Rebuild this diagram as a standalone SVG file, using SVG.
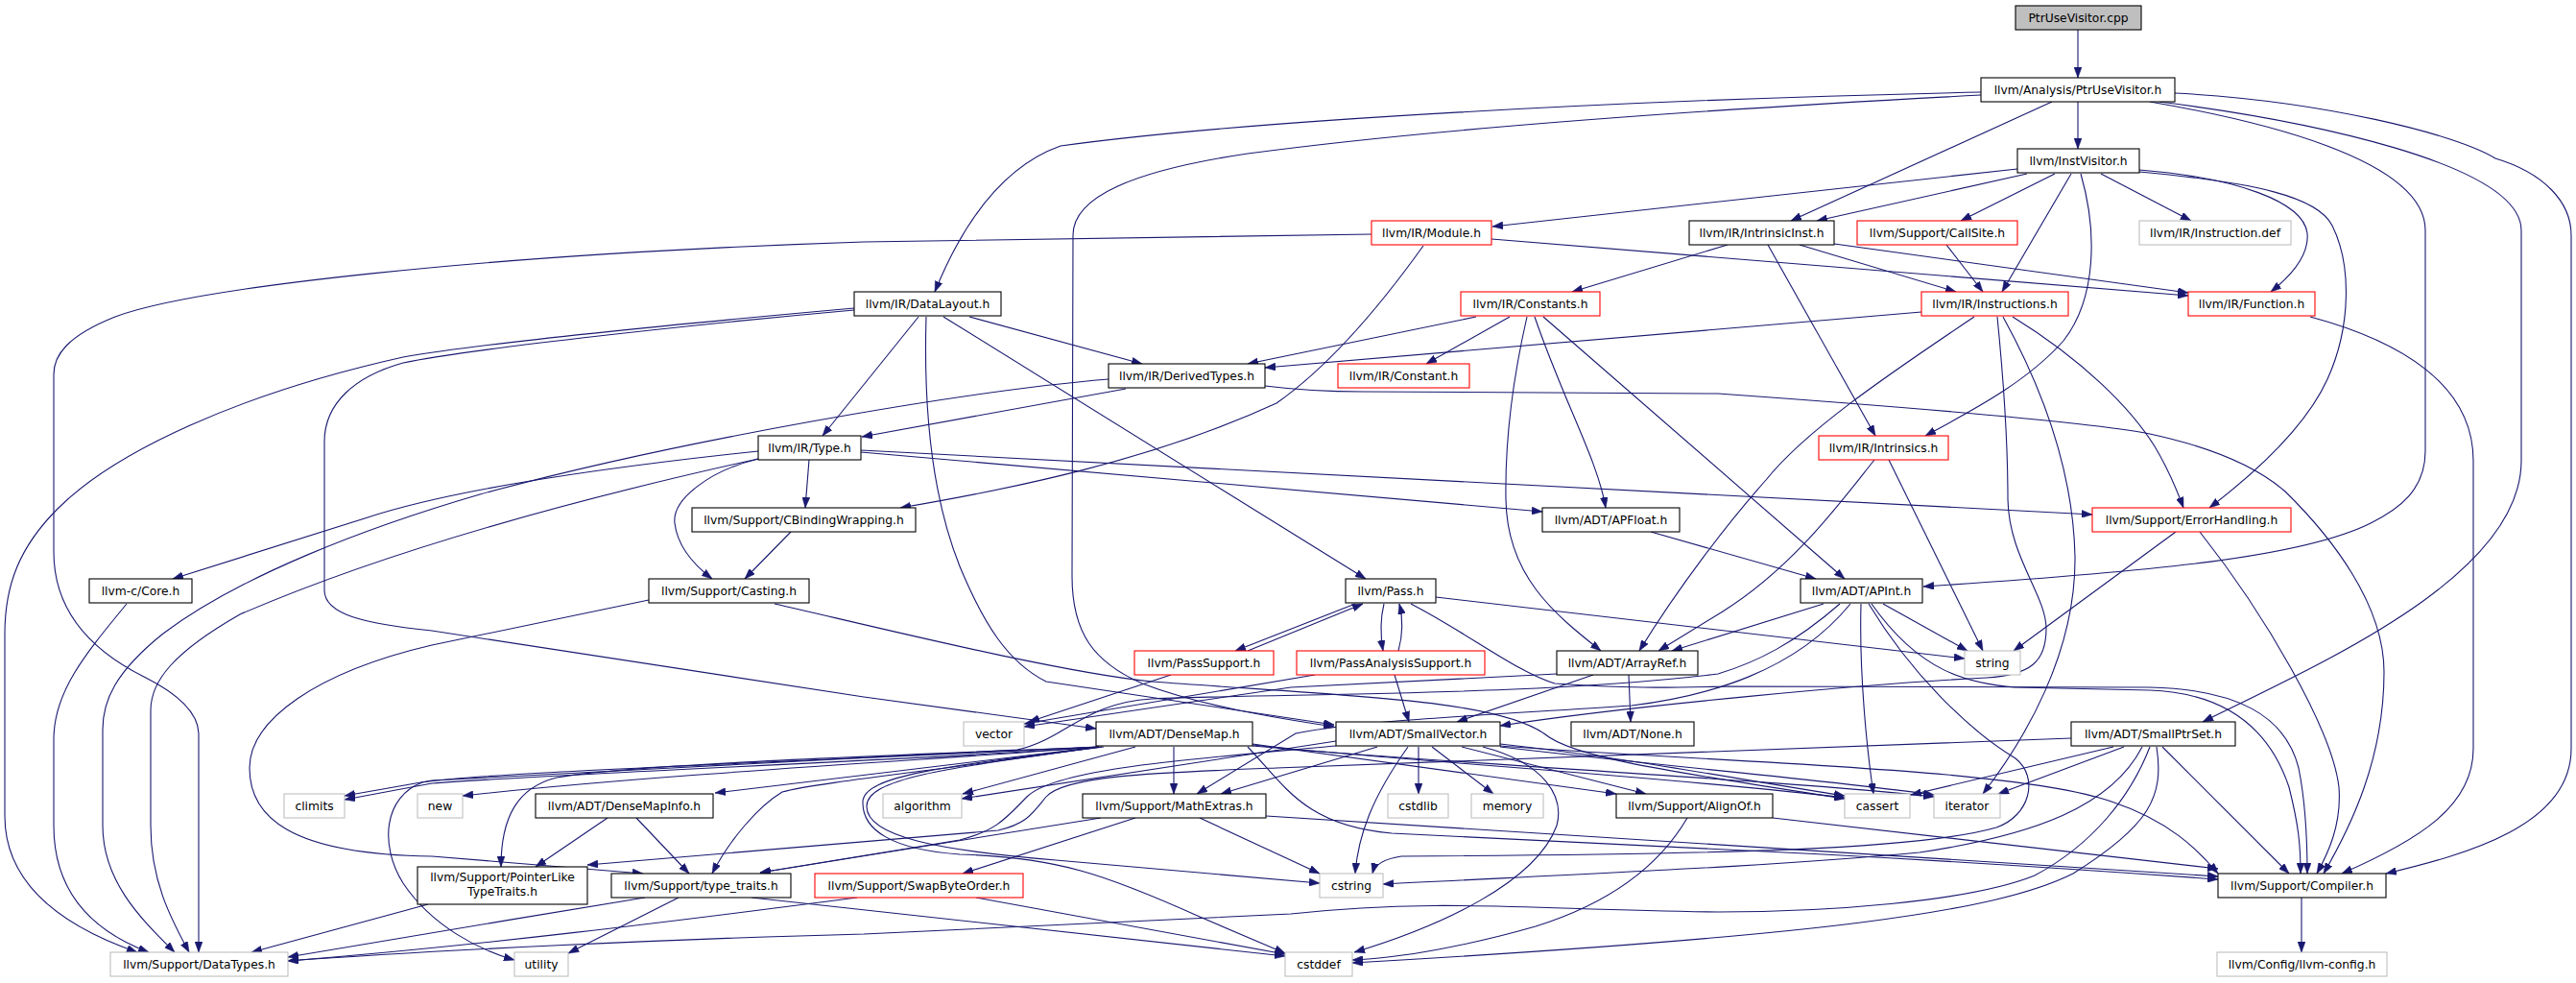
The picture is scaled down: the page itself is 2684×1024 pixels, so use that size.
<svg xmlns="http://www.w3.org/2000/svg" width="2684" height="1024" viewBox="0 0 2684 1024">
<defs>
<marker id="ah" viewBox="0 0 11 8" refX="11" refY="4" markerWidth="11" markerHeight="8" markerUnits="userSpaceOnUse" orient="auto"><path d="M0,0L11,4L0,8z" fill="#191970" stroke="#191970" stroke-width="0.5"/></marker>
</defs>
<style>
.e path{fill:none;stroke:#191970;stroke-width:1.1;marker-end:url(#ah)}
.nd rect{fill:#fff;stroke:#000;stroke-width:1.1}
.rd rect{stroke:#ff0000}
.gy rect{stroke:#bfbfbf}
text{font-family:"DejaVu Sans","Liberation Sans",sans-serif;font-size:12.3px;text-anchor:middle;fill:#000}
</style>
<rect width="2684" height="1024" fill="#fff"/>
<g id="connectors" class="e">
<path d="M2165,31 L2165,81"/>
<path d="M2165,106 L2165,155"/>
<path d="M2138,106 L1866,230"/>
<path d="M2064,96 C1700,104 1300,125 1105,152 C1040,175 1000,240 974,304"/>
<path d="M2064,99 C1700,118 1450,140 1300,160 C1180,178 1118,205 1118,245 L1117,600 C1117,660 1140,690 1190,712 C1250,735 1330,748 1390,757"/>
<path d="M2240,106 C2350,125 2527,165 2527,240 L2527,470 C2527,510 2500,530 2470,545 C2400,580 2250,595 2004,611"/>
<path d="M2250,106 C2400,125 2627,170 2627,240 L2627,480 C2627,600 2420,690 2295,752"/>
<path d="M2266,97 C2420,105 2560,140 2600,165 C2650,180 2679,210 2679,245 L2679,780 C2679,860 2570,890 2486,910"/>
<path d="M2102,176 L1555,236"/>
<path d="M2112,181 L1893,230"/>
<path d="M2141,181 L2043,230"/>
<path d="M2158,181 L2086,304"/>
<path d="M2168,181 C2185,240 2185,310 2150,355 C2110,400 2050,430 2006,454"/>
<path d="M2189,181 L2283,230"/>
<path d="M2229,177 C2330,185 2400,210 2404,243 C2406,265 2390,285 2366,304"/>
<path d="M2229,179 C2350,190 2415,205 2430,235 C2450,275 2450,340 2425,395 C2400,450 2340,500 2302,529"/>
<path d="M1554,249 L2280,308"/>
<path d="M1429,244 L900,252 C500,265 200,300 120,330 C70,350 56,370 56,390 L56,575 C56,640 100,680 150,705 C190,725 207,745 207,765 L207,992"/>
<path d="M1483,256 C1430,330 1380,385 1330,420 C1200,480 1050,510 938,529"/>
<path d="M1800,255 L1638,304"/>
<path d="M1911,254 L2280,305"/>
<path d="M1875,255 L2038,304"/>
<path d="M1842,255 L1954,454"/>
<path d="M2028,255 L2066,304"/>
<path d="M1010,330 L1190,379"/>
<path d="M957,330 L857,454"/>
<path d="M983,330 L1423,603"/>
<path d="M890,321 C700,338 500,358 420,372 C250,410 120,470 60,530 C20,570 5,610 5,660 L5,850 C5,930 80,970 143,992"/>
<path d="M890,323 C700,340 480,365 420,378 C370,392 338,420 338,460 L338,615 C338,640 380,650 450,657 L900,726 L1142,759"/>
<path d="M965,330 C962,430 972,520 1000,590 C1025,650 1050,690 1090,710 L1390,755"/>
<path d="M1538,330 L1300,379"/>
<path d="M1573,330 L1486,379"/>
<path d="M1591,330 C1575,400 1568,460 1569,520 C1570,600 1620,640 1668,678"/>
<path d="M1599,330 C1630,420 1665,480 1673,529"/>
<path d="M1608,330 L1922,603"/>
<path d="M2002,325 L1318,383"/>
<path d="M2057,330 C1960,395 1880,450 1840,500 C1800,545 1750,610 1708,678"/>
<path d="M2081,330 C2088,400 2092,460 2092,520 C2093,580 2132,620 2132,655 C2132,690 2115,703 2070,706 C1950,712 1700,735 1563,756"/>
<path d="M2087,330 C2120,390 2160,480 2162,580 C2163,680 2110,770 2066,827"/>
<path d="M2097,330 C2170,375 2220,425 2245,465 C2260,490 2268,510 2275,529"/>
<path d="M2407,330 C2500,355 2577,400 2577,480 L2577,780 C2577,840 2520,875 2440,910"/>
<path d="M1173,405 L898,455"/>
<path d="M1155,395 C1000,408 700,460 500,515 C380,550 250,600 170,660 C120,700 107,730 107,760 L107,860 C107,920 150,960 182,992"/>
<path d="M1318,402 C1350,406 1380,408 1420,408 L1790,410 C2000,425 2180,440 2240,452 C2300,465 2350,485 2381,512 C2430,560 2484,630 2484,700 C2484,790 2450,860 2421,910"/>
<path d="M843,479 L839,529"/>
<path d="M790,478 C740,490 700,520 703,545 C706,570 725,590 742,603"/>
<path d="M897,471 L1607,533"/>
<path d="M897,469 L2180,536"/>
<path d="M790,470 C620,488 470,510 380,540 L180,603"/>
<path d="M790,478 C600,520 400,575 250,640 C180,680 157,710 157,740 L157,860 C157,920 180,960 197,992"/>
<path d="M1953,479 C1920,520 1870,590 1795,637 L1728,678"/>
<path d="M1968,479 L2066,678"/>
<path d="M824,554 L776,603"/>
<path d="M1720,554 L1892,603"/>
<path d="M2267,554 L2098,678"/>
<path d="M2292,554 C2360,640 2430,760 2437,820 C2440,860 2425,890 2414,910"/>
<path d="M132,629 C90,680 56,720 56,770 L56,860 C56,940 110,975 155,992"/>
<path d="M676,625 L450,672 C330,700 260,750 260,800 C260,850 300,890 450,892 L670,910"/>
<path d="M807,629 C900,650 1100,700 1200,710 C1400,725 1560,728 1610,765 C1640,790 1750,805 1922,832"/>
<path d="M1442,629 C1438,645 1438,660 1441,678"/>
<path d="M1412,629 L1287,678"/>
<path d="M1496,622 L2047,686"/>
<path d="M1470,629 C1530,660 1580,700 1620,712 C1700,718 1750,716 1800,715 L2240,716 C2330,718 2381,745 2395,800 C2403,840 2404,880 2404,910"/>
<path d="M1300,678 L1420,629"/>
<path d="M1220,703 L1072,752"/>
<path d="M1457,678 C1462,660 1462,645 1458,629"/>
<path d="M1453,703 L1468,752"/>
<path d="M1370,703 L1067,754"/>
<path d="M1697,703 L1699,752"/>
<path d="M1660,703 L1518,752"/>
<path d="M1622,702 L1345,716 L1067,757"/>
<path d="M1900,629 L1742,678"/>
<path d="M1962,629 L2050,678"/>
<path d="M1939,629 C1937,700 1945,780 1952,827"/>
<path d="M1917,629 C1870,670 1830,690 1790,702 C1600,725 1350,722 1200,728 C1130,732 1110,770 1060,781 L700,800 C550,808 470,812 450,813 L359,829"/>
<path d="M1947,629 C1990,700 2050,760 2100,790 C2125,810 2115,850 2080,862 C2000,885 1800,890 1460,892 C1440,895 1432,902 1430,910"/>
<path d="M1950,629 C2000,700 2050,712 2100,716 L2240,719 C2320,722 2365,760 2385,820 C2395,860 2397,880 2397,910"/>
<path d="M1928,629 C1870,700 1780,725 1700,735 C1550,745 1420,750 1350,764 L1247,827"/>
<path d="M1223,778 L1223,827"/>
<path d="M1183,778 L1003,827"/>
<path d="M1145,778 L745,826"/>
<path d="M1145,778 C1000,790 700,805 482,829"/>
<path d="M1145,778 C950,792 600,805 450,816 L359,833"/>
<path d="M1145,778 C900,788 650,797 580,810 C540,820 522,850 522,903"/>
<path d="M1145,778 C1000,800 850,815 815,825 C790,840 760,875 742,910"/>
<path d="M1145,778 C800,795 500,805 440,815 C400,830 395,880 420,920 C450,965 500,990 536,1000"/>
<path d="M1150,778 C985,798 900,808 899,835 C898,865 930,885 1000,890 C1100,893 1150,910 1250,955 L1339,993"/>
<path d="M1148,778 C980,800 903,812 903,840 C903,872 980,886 1100,896 L1375,920"/>
<path d="M1305,776 C1450,792 1750,810 1922,831"/>
<path d="M1305,777 C1500,795 1850,812 2015,830"/>
<path d="M1305,775 L1684,827"/>
<path d="M1300,778 C1340,820 1360,860 1450,868 L1900,890 C2050,898 2200,908 2311,916"/>
<path d="M1435,778 L1272,827"/>
<path d="M1392,772 L1002,832"/>
<path d="M1392,777 C1250,790 1100,800 1070,830 C1050,850 1040,865 1000,875 L792,909"/>
<path d="M1467,778 C1430,830 1415,870 1412,910"/>
<path d="M1478,778 L1478,827"/>
<path d="M1492,778 L1556,827"/>
<path d="M1523,778 L1715,827"/>
<path d="M1545,778 C1610,795 1630,830 1622,860 C1600,920 1500,965 1411,992"/>
<path d="M1563,775 C1700,790 1800,810 1922,829"/>
<path d="M1563,778 C1750,800 1900,812 2015,828"/>
<path d="M1563,777 C1800,795 2100,800 2200,835 C2260,855 2290,885 2311,910"/>
<path d="M2253,778 L2385,910"/>
<path d="M2202,778 L1991,828"/>
<path d="M2213,778 L2082,827"/>
<path d="M2158,769 L1330,800 C1200,805 1110,808 1090,830 C1075,848 1070,858 1040,865 L612,901"/>
<path d="M2240,778 C2220,830 2180,880 2120,912 C2050,940 1900,950 1790,950 C1600,948 1500,935 1345,952 L900,973 C700,978 450,990 300,1001"/>
<path d="M2232,778 C2200,840 2120,870 2000,888 C1850,902 1700,908 1441,921"/>
<path d="M2247,778 C2255,830 2240,860 2160,910 C2080,950 1900,975 1409,1003"/>
<path d="M1183,852 L1003,910"/>
<path d="M1250,852 L1375,910"/>
<path d="M1319,850 C1500,860 1800,880 2311,913"/>
<path d="M1147,852 L792,909"/>
<path d="M1758,852 C1730,900 1680,940 1600,965 C1530,985 1460,998 1409,1000"/>
<path d="M1847,852 L2311,905"/>
<path d="M633,852 L558,903"/>
<path d="M663,852 L718,910"/>
<path d="M446,942 L262,992"/>
<path d="M672,935 C550,955 400,980 300,997"/>
<path d="M707,935 L592,993"/>
<path d="M783,935 C1000,960 1200,980 1339,996"/>
<path d="M893,935 C700,960 500,985 300,1001"/>
<path d="M1017,935 L1339,994"/>
<path d="M2398,935 L2398,992"/>
</g>
<g id="n0" class="nd"><rect x="2100" y="6" width="131" height="25" style="fill:#bfbfbf"/><text x="2165.5" y="23">PtrUseVisitor.cpp</text></g>
<g id="n1" class="nd"><rect x="2064" y="81" width="202" height="25"/><text x="2165" y="98">llvm/Analysis/PtrUseVisitor.h</text></g>
<g id="n2" class="nd"><rect x="2102" y="155" width="127" height="25"/><text x="2165.5" y="172">llvm/InstVisitor.h</text></g>
<g id="n3" class="nd rd"><rect x="1429" y="230" width="125" height="25"/><text x="1491.5" y="247">llvm/IR/Module.h</text></g>
<g id="n4" class="nd"><rect x="1760" y="230" width="151" height="25"/><text x="1835.5" y="247">llvm/IR/IntrinsicInst.h</text></g>
<g id="n5" class="nd rd"><rect x="1935" y="230" width="167" height="25"/><text x="2018.5" y="247">llvm/Support/CallSite.h</text></g>
<g id="n6" class="nd gy"><rect x="2229" y="230" width="158" height="25"/><text x="2308" y="247">llvm/IR/Instruction.def</text></g>
<g id="n7" class="nd"><rect x="890" y="304" width="153" height="25"/><text x="966.5" y="321">llvm/IR/DataLayout.h</text></g>
<g id="n8" class="nd rd"><rect x="1522" y="304" width="145" height="25"/><text x="1594.5" y="321">llvm/IR/Constants.h</text></g>
<g id="n9" class="nd rd"><rect x="2002" y="304" width="153" height="25"/><text x="2078.5" y="321">llvm/IR/Instructions.h</text></g>
<g id="n10" class="nd rd"><rect x="2280" y="304" width="132" height="25"/><text x="2346" y="321">llvm/IR/Function.h</text></g>
<g id="n11" class="nd"><rect x="1155" y="379" width="163" height="25"/><text x="1236.5" y="396">llvm/IR/DerivedTypes.h</text></g>
<g id="n12" class="nd rd"><rect x="1394" y="379" width="137" height="25"/><text x="1462.5" y="396">llvm/IR/Constant.h</text></g>
<g id="n13" class="nd"><rect x="790" y="454" width="107" height="25"/><text x="843.5" y="471">llvm/IR/Type.h</text></g>
<g id="n14" class="nd rd"><rect x="1895" y="454" width="135" height="25"/><text x="1962.5" y="471">llvm/IR/Intrinsics.h</text></g>
<g id="n15" class="nd"><rect x="721" y="529" width="233" height="25"/><text x="837.5" y="546">llvm/Support/CBindingWrapping.h</text></g>
<g id="n16" class="nd"><rect x="1607" y="529" width="143" height="25"/><text x="1678.5" y="546">llvm/ADT/APFloat.h</text></g>
<g id="n17" class="nd rd"><rect x="2180" y="529" width="207" height="25"/><text x="2283.5" y="546">llvm/Support/ErrorHandling.h</text></g>
<g id="n18" class="nd"><rect x="93" y="603" width="107" height="25"/><text x="146.5" y="620">llvm-c/Core.h</text></g>
<g id="n19" class="nd"><rect x="676" y="603" width="167" height="25"/><text x="759.5" y="620">llvm/Support/Casting.h</text></g>
<g id="n20" class="nd"><rect x="1402" y="603" width="94" height="25"/><text x="1449" y="620">llvm/Pass.h</text></g>
<g id="n21" class="nd"><rect x="1876" y="603" width="127" height="25"/><text x="1939.5" y="620">llvm/ADT/APInt.h</text></g>
<g id="n22" class="nd rd"><rect x="1182" y="678" width="145" height="25"/><text x="1254.5" y="695">llvm/PassSupport.h</text></g>
<g id="n23" class="nd rd"><rect x="1351" y="678" width="196" height="25"/><text x="1449" y="695">llvm/PassAnalysisSupport.h</text></g>
<g id="n24" class="nd"><rect x="1622" y="678" width="147" height="25"/><text x="1695.5" y="695">llvm/ADT/ArrayRef.h</text></g>
<g id="n25" class="nd gy"><rect x="2047" y="678" width="58" height="25"/><text x="2076" y="695">string</text></g>
<g id="n26" class="nd gy"><rect x="1004" y="752" width="63" height="25"/><text x="1035.5" y="769">vector</text></g>
<g id="n27" class="nd"><rect x="1142" y="752" width="163" height="25"/><text x="1223.5" y="769">llvm/ADT/DenseMap.h</text></g>
<g id="n28" class="nd"><rect x="1392" y="752" width="171" height="25"/><text x="1477.5" y="769">llvm/ADT/SmallVector.h</text></g>
<g id="n29" class="nd"><rect x="1637" y="752" width="128" height="25"/><text x="1701" y="769">llvm/ADT/None.h</text></g>
<g id="n30" class="nd"><rect x="2158" y="752" width="171" height="25"/><text x="2243.5" y="769">llvm/ADT/SmallPtrSet.h</text></g>
<g id="n31" class="nd gy"><rect x="296" y="827" width="63" height="25"/><text x="327.5" y="844">climits</text></g>
<g id="n32" class="nd gy"><rect x="435" y="827" width="47" height="25"/><text x="458.5" y="844">new</text></g>
<g id="n33" class="nd"><rect x="558" y="827" width="185" height="25"/><text x="650.5" y="844">llvm/ADT/DenseMapInfo.h</text></g>
<g id="n34" class="nd gy"><rect x="920" y="827" width="82" height="25"/><text x="961" y="844">algorithm</text></g>
<g id="n35" class="nd"><rect x="1128" y="827" width="191" height="25"/><text x="1223.5" y="844">llvm/Support/MathExtras.h</text></g>
<g id="n36" class="nd gy"><rect x="1446" y="827" width="63" height="25"/><text x="1477.5" y="844">cstdlib</text></g>
<g id="n37" class="nd gy"><rect x="1533" y="827" width="75" height="25"/><text x="1570.5" y="844">memory</text></g>
<g id="n38" class="nd"><rect x="1684" y="827" width="163" height="25"/><text x="1765.5" y="844">llvm/Support/AlignOf.h</text></g>
<g id="n39" class="nd gy"><rect x="1922" y="827" width="68" height="25"/><text x="1956" y="844">cassert</text></g>
<g id="n40" class="nd gy"><rect x="2015" y="827" width="69" height="25"/><text x="2049.5" y="844">iterator</text></g>
<g id="n41" class="nd"><rect x="435" y="903" width="177" height="39"/><text x="523.5" y="918">llvm/Support/PointerLike</text><text x="523.5" y="933">TypeTraits.h</text></g>
<g id="n42" class="nd"><rect x="637" y="910" width="187" height="25"/><text x="730.5" y="927">llvm/Support/type_traits.h</text></g>
<g id="n43" class="nd rd"><rect x="849" y="910" width="217" height="25"/><text x="957.5" y="927">llvm/Support/SwapByteOrder.h</text></g>
<g id="n44" class="nd gy"><rect x="1375" y="910" width="66" height="25"/><text x="1408" y="927">cstring</text></g>
<g id="n45" class="nd"><rect x="2311" y="910" width="175" height="25"/><text x="2398.5" y="927">llvm/Support/Compiler.h</text></g>
<g id="n46" class="nd gy"><rect x="115" y="992" width="185" height="25"/><text x="207.5" y="1009">llvm/Support/DataTypes.h</text></g>
<g id="n47" class="nd gy"><rect x="536" y="992" width="56" height="25"/><text x="564" y="1009">utility</text></g>
<g id="n48" class="nd gy"><rect x="1339" y="992" width="70" height="25"/><text x="1374" y="1009">cstddef</text></g>
<g id="n49" class="nd gy"><rect x="2310" y="992" width="177" height="25"/><text x="2398.5" y="1009">llvm/Config/llvm-config.h</text></g>
</svg>
